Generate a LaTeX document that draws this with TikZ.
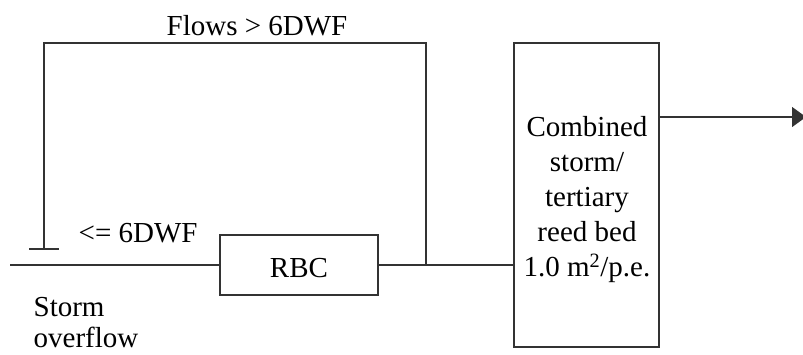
\documentclass[tikz,border=0pt]{standalone}
\usepackage{fontspec}
\setmainfont{Liberation Serif}
\usetikzlibrary{arrows.meta}
\begin{document}
\begin{tikzpicture}[x=1pt,y=-1pt,
  line width=1.3pt,
  every node/.style={font=\fontsize{29}{35}\selectfont, text=black},
  box/.style={draw=black!80, rectangle, inner sep=0pt},
  conn/.style={draw=black!80},
  lbl/.style={anchor=base, inner sep=0pt}]
\useasboundingbox (0,0) rectangle (803,354);
% boxes
\node[box, minimum width=158pt, minimum height=60pt] (rbc) at (299,265) {};
\node[lbl] (rbctext) at (299,277) {RBC};
\node[box, minimum width=145pt, minimum height=304pt] (reed) at (586.5,195) {};
\node[align=center, inner sep=0pt] (reedtext) at (587,200) {Combined\\storm/\\tertiary\\reed bed\\1.0 m\textsuperscript{2}/p.e.};
% coordinates
\coordinate (in) at (10,265);
\coordinate (j) at (426,265);
\coordinate (tl) at (44,43);
\coordinate (weir) at (44,249);
\coordinate (out) at (806,117);
% connectors
\draw[conn] (in) -- (rbc.west);
\draw[conn] (rbc.east) -- (rbc.east -| reed.west);
\draw[conn] (j) |- (tl) -- (weir);
\draw[conn] ([xshift=-15pt]weir) -- ([xshift=15pt]weir);
\draw[conn, -{Triangle[length=14pt,width=20pt]}] (out -| reed.east) -- (out);
% labels
\node[lbl] (flows) at (257,35) {Flows > 6DWF};
\node[lbl, anchor=base west] (le) at (78,242) {<= 6DWF};
\node[lbl, anchor=base west] (storm) at (33,316) {Storm};
\node[lbl, anchor=base west] (overflow) at (33,347) {overflow};
\end{tikzpicture}
\end{document}
